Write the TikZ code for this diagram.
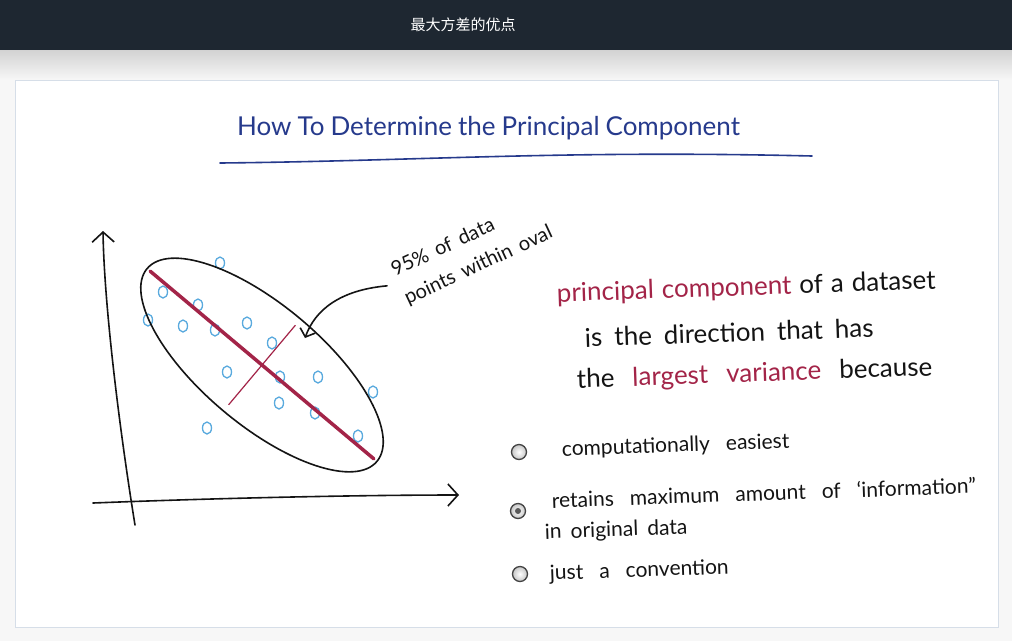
\documentclass[tikz,border=0pt]{standalone}
\usepackage{fontspec}
\setmainfont{Lato}
\newfontfamily\cjkfont{Noto Sans CJK SC}
\usetikzlibrary{positioning,arrows.meta}
\definecolor{headbg}{RGB}{30,39,49}
\definecolor{pagebg}{RGB}{247,247,247}
\definecolor{panelline}{RGB}{214,222,232}
\definecolor{titleblue}{RGB}{38,58,140}
\definecolor{pcred}{RGB}{163,36,72}
\definecolor{dotblue}{RGB}{90,170,222}
\definecolor{inkcol}{RGB}{20,20,20}
\newcommand{\wsp}[1]{\spaceskip=#1\relax}

\begin{document}
\begin{tikzpicture}[
  x=1pt, y=-1pt,
  ink/.style={draw=inkcol, line width=1.6pt, line cap=round},
  barb/.style={-{Straight Barb[length=10pt,width=22pt,line width=1.6pt]}},
  hand/.style={text=inkcol, inner sep=0pt, anchor=base west},
  big/.style={hand, rotate=2, font=\fontsize{26}{30}\selectfont\wsp{#1}},
  small/.style={hand, rotate=2, font=\fontsize{21}{25}\selectfont\wsp{#1}},
  pt/.style={draw=dotblue, line width=1.3pt},
  radio/.style={circle, draw=inkcol!80, line width=1.3pt, inner color=white,
    outer color=gray!45, minimum size=15pt, inner sep=0pt},
]
\useasboundingbox (0,0) rectangle (1012,641);

% ---- page, header bar and panel ----
\fill[pagebg] (0,0) rectangle (1012,641);
\shade[top color=gray!35, bottom color=pagebg] (0,50) rectangle (1012,80);
\fill[headbg] (0,0) rectangle (1012,50);
\node[text=white, font=\cjkfont\fontsize{15}{15}\selectfont] (head) at (463,25) {最大方差的优点};
\draw[panelline, fill=white] (15.5,80.5) rectangle (998.5,627.5);

% ---- title ----
\node[hand, text=titleblue, font=\fontsize{26}{30}\selectfont\wsp{6pt}] (title) at (237,135)
  {How To Determine the Principal Component};
\draw[titleblue, line width=1.6pt, line cap=round]
  (220,163) .. controls (420,161) and (560,150) .. (812,156);

% ---- axes ----
\draw[ink, barb] (135,525) .. controls (118,420) and (104,300) .. (103,231);
\draw[ink, barb] (93,503) .. controls (220,498) and (360,495) .. (459,495);

% ---- data points ----
\foreach \px/\py in {220/263, 163/292, 198/305, 148/320, 183/326, 215/330,
                     247/323, 272/343, 227/372, 280/377, 318/377, 373/392,
                     279/403, 315/413, 358/436, 207/428}
  \draw[pt] (\px,\py) ellipse [x radius=4.5pt, y radius=6pt];

% ---- oval and principal axes ----
\begin{scope}[shift={(262,365)}, rotate=-40]
  \draw[ink] (0,0) ellipse [x radius=150pt, y radius=60pt];
  \draw[pcred, line width=3.5pt, line cap=round] (-146pt,0) -- (146pt,0);
  \draw[pcred, line width=1.2pt] (0,-52pt) -- (0,52pt);
\end{scope}

% ---- annotation ----
\node[hand, align=left, rotate=25,
      font=\fontsize{20}{31}\selectfont\wsp{8pt}] (note) at (408,305)
  {95\% of data\\points within oval};
\coordinate (tip) at (305,338);
\draw[ink, -{Straight Barb[length=7pt,width=16pt,line width=1.6pt]}]
  ([xshift=-12pt]note.west) .. controls (340,290) and (315,310) .. (tip);

% ---- definition ----
\node[big=8pt] (def1) at (557,302)
  {\textcolor{pcred}{principal component} of a dataset};
\node[big=12pt] (def2) at (585,347) {is the direction that has};
\node[big=18pt] (def3) at (577,388)
  {the \textcolor{pcred}{largest variance} because};

% ---- answers ----
\node[radio] (r1) at (519,452) {};
\node[radio] (r2) at (518,511) {};
\fill[gray!70!black] (r2) circle (3pt);
\node[radio] (r3) at (520,574) {};
\node[small=16pt] (a1) at (562,456) {computationally easiest};
\node[small=16pt] (a2) at (552,508) {retains maximum amount of ‘information"};
\node[small=9pt] (a3) at (545,539) {in original data};
\node[small=16pt] (a4) at (550,580) {just a convention};

\end{tikzpicture}
\end{document}
